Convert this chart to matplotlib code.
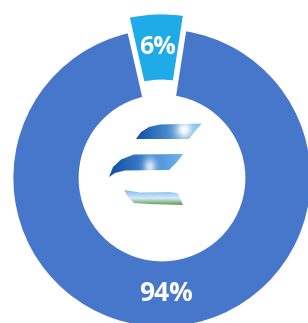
import numpy as np
import matplotlib
matplotlib.use("Agg")
import matplotlib.pyplot as plt
from matplotlib.patches import Polygon

labels = ["6%", "94%"]
values = [6, 94]
colors = ["#1EABE8", "#4677CA"]

W, H = 308, 323
fig = plt.figure(figsize=(W / 100, H / 100), dpi=100)
ax = fig.add_axes([0, 0, 1, 1])
cx, cy = 162, H - 178
R = 150
width = 68

wedges, texts, autotexts = ax.pie(
    values, colors=colors, startangle=81.2, counterclock=True,
    explode=[15, 0], radius=R, center=(cx, cy),
    wedgeprops=dict(width=width, edgecolor="white", linewidth=2),
    autopct=lambda p: f"{p:.0f}%", pctdistance=(R - width / 2) / R,
    textprops=dict(color="white", fontsize=19, fontweight="bold", family="Open Sans"),
)
autotexts[0].set_fontsize(18)
ax.set_xlim(0, W)
ax.set_ylim(0, H)
ax.set_aspect("equal")
ax.axis("off")

# --- decorative logo in the hole (pixel coordinates, y down converted) ---
def P(pts):
    return [(x, H - y) for x, y in pts]

def blade(pts, img, extent):
    poly = Polygon(P(pts), closed=True, facecolor="none", edgecolor="none")
    ax.add_patch(poly)
    im = ax.imshow(img, extent=extent, origin="upper", zorder=3, interpolation="bilinear", aspect="auto")
    im.set_clip_path(poly)

gx = np.linspace(0, 1, 64)
gy = np.linspace(0, 1, 16)
X, Y = np.meshgrid(gx, gy)
t = X[..., None]
dark = np.array([0.05, 0.30, 0.65]); light = np.array([0.55, 0.80, 0.97])

# stripe 1
s1 = [(136, 139), (141, 132), (149, 127), (160, 124.5), (202, 123.5), (196, 130), (189, 139), (150, 139)]
base1 = dark * (1 - t) + light * t
sun = np.exp(-(((X - 0.72) / 0.12) ** 2 + ((Y - 0.4) / 0.5) ** 2))[..., None]
base1 = base1 * (1 - sun) + np.array([1, 1, 1]) * sun
blade(s1, base1, (134, 204, H - 141, H - 122))

# stripe 2
s2 = [(109, 177), (113, 167), (121, 159.5), (134, 154.5), (183, 154), (177, 162), (169, 170), (125, 170.5), (115, 173)]
base2 = dark * (1 - t) + np.array([0.45, 0.72, 0.95]) * t
sp = np.exp(-(((X - 0.55) / 0.08) ** 2 + ((Y - 0.55) / 0.35) ** 2))[..., None]
base2 = base2 * (1 - 0.8 * sp) + np.array([1, 1, 1]) * 0.8 * sp
blade(s2, base2, (107, 185, H - 179, H - 152))

# stripe 3
s3 = [(124, 190), (140, 192.5), (170, 192), (178, 193.5), (183, 205), (150, 204), (134, 203), (128, 197)]
top = np.array([0.45, 0.72, 0.95]); mid = np.array([0.85, 0.92, 0.98]); grn = np.array([0.30, 0.58, 0.22])
ty = Y[..., None]
base3 = np.where(ty < 0.55, top * (1 - ty / 0.55) + mid * (ty / 0.55),
                 mid * (1 - (ty - 0.55) / 0.45) + grn * ((ty - 0.55) / 0.45))
blade(s3, base3, (122, 185, H - 206, H - 189))

fig.savefig("out.png", dpi=100)
